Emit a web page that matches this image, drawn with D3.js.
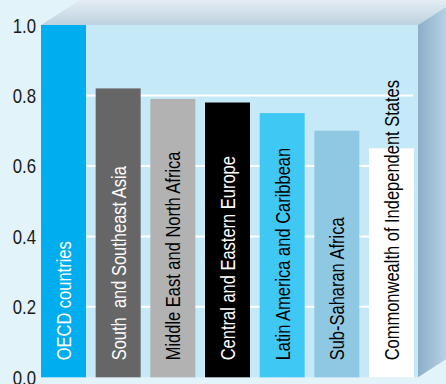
<!DOCTYPE html>
<html>
<head>
<meta charset="utf-8">
<script src="https://cdn.jsdelivr.net/npm/d3@7"></script>
<style>
  html, body { margin: 0; padding: 0; background: #e2f3fa; }
  svg { display: block; }
  text { font-family: "Liberation Sans", Arial, sans-serif; }
</style>
</head>
<body>
<svg id="chart" width="446" height="384"></svg>
<script>
const categories = [
  "OECD countries",
  "South  and Southeast Asia",
  "Middle East and North Africa",
  "Central and Eastern Europe",
  "Latin America and Caribbean",
  "Sub-Saharan Africa",
  "Commonwealth of Independent States"
];
const values = [1.0, 0.82, 0.79, 0.78, 0.75, 0.70, 0.65];
const yTicks = [0.0, 0.2, 0.4, 0.6, 0.8, 1.0];

const barColors = ["#00aeef", "#666666", "#b2b2b2", "#000000", "#40c8f4", "#8fc8e2", "#ffffff"];
const labelColors = ["#ffffff", "#ffffff", "#000000", "#ffffff", "#000000", "#000000", "#000000"];

(function () {
  const pLeft = 41, pRight = 418, pTop = 25, pBottom = 377.3;
  const depthX = 39, depthY = -25;
  const narrowLabel = 0.845, narrowTick = 0.84;

  const svg = d3.select("#chart");

  const x = d3.scaleBand().domain(categories).range([pLeft, 414]).paddingInner(0.177).paddingOuter(0);
  const y = d3.scaleLinear().domain([0, 1]).range([pBottom, pTop]);

  const defs = svg.append("defs");
  const gTop = defs.append("linearGradient").attr("id", "gTop").attr("x1", 0).attr("y1", 0).attr("x2", 0).attr("y2", 1);
  gTop.append("stop").attr("offset", "0%").attr("stop-color", "#e4edf3");
  gTop.append("stop").attr("offset", "100%").attr("stop-color", "#bdd2e0");
  const gRight = defs.append("linearGradient").attr("id", "gRight").attr("x1", 0).attr("y1", 0).attr("x2", 1).attr("y2", 0);
  gRight.append("stop").attr("offset", "0%").attr("stop-color", "#8cafc7");
  gRight.append("stop").attr("offset", "100%").attr("stop-color", "#c6def0");

  // back wall
  svg.append("rect").attr("x", pLeft).attr("y", pTop).attr("width", pRight - pLeft).attr("height", pBottom - pTop)
    .attr("fill", "#c6e9f8");
  // top wall
  svg.append("path")
    .attr("d", `M${pLeft},${pTop} L${pRight},${pTop} L${pRight + depthX},${pTop + depthY} L${pLeft + depthX},${pTop + depthY} Z`)
    .attr("fill", "url(#gTop)");
  // right wall
  svg.append("path")
    .attr("d", `M${pRight},${pTop} L${pRight + depthX},${pTop + depthY} L${pRight + depthX},${pBottom + depthY} L${pRight},${pBottom} Z`)
    .attr("fill", "url(#gRight)");

  // gridlines
  svg.append("g").selectAll("line").data(yTicks.filter(t => t > 0 && t < 1)).join("line")
    .attr("x1", pLeft).attr("x2", 413)
    .attr("y1", d => y(d)).attr("y2", d => y(d))
    .attr("stroke", "#ffffff").attr("stroke-width", 2);

  // bars
  svg.append("g").selectAll("rect").data(values).join("rect")
    .attr("x", (d, i) => x(categories[i]))
    .attr("width", x.bandwidth())
    .attr("y", d => y(d))
    .attr("height", d => y(0) - y(d))
    .attr("fill", (d, i) => barColors[i]);

  // bar labels
  svg.append("g").selectAll("text").data(categories).join("text")
    .attr("transform", d => `translate(${x(d) + x.bandwidth() / 2 + 0.5},${pBottom - 17}) rotate(-90) scale(${narrowLabel},1)`)
    .attr("dy", "0.36em")
    .attr("font-size", 19.5)
    .attr("fill", (d, i) => labelColors[i])
    .style("white-space", "pre")
    .text(d => d);

  // y axis
  const yAxis = d3.axisLeft(y).tickValues(yTicks).tickFormat(d3.format(".1f")).tickSize(0).tickPadding(0);
  const ax = svg.append("g").attr("transform", `translate(36,0)`).call(yAxis);
  ax.attr("font-family", null).attr("font-size", null);
  ax.select(".domain").remove();
  ax.selectAll("text").attr("font-size", 20).attr("fill", "#1a1a1a").attr("dy", "0.35em")
    .attr("transform", `scale(${narrowTick},1)`);
})();
</script>
</body>
</html>
